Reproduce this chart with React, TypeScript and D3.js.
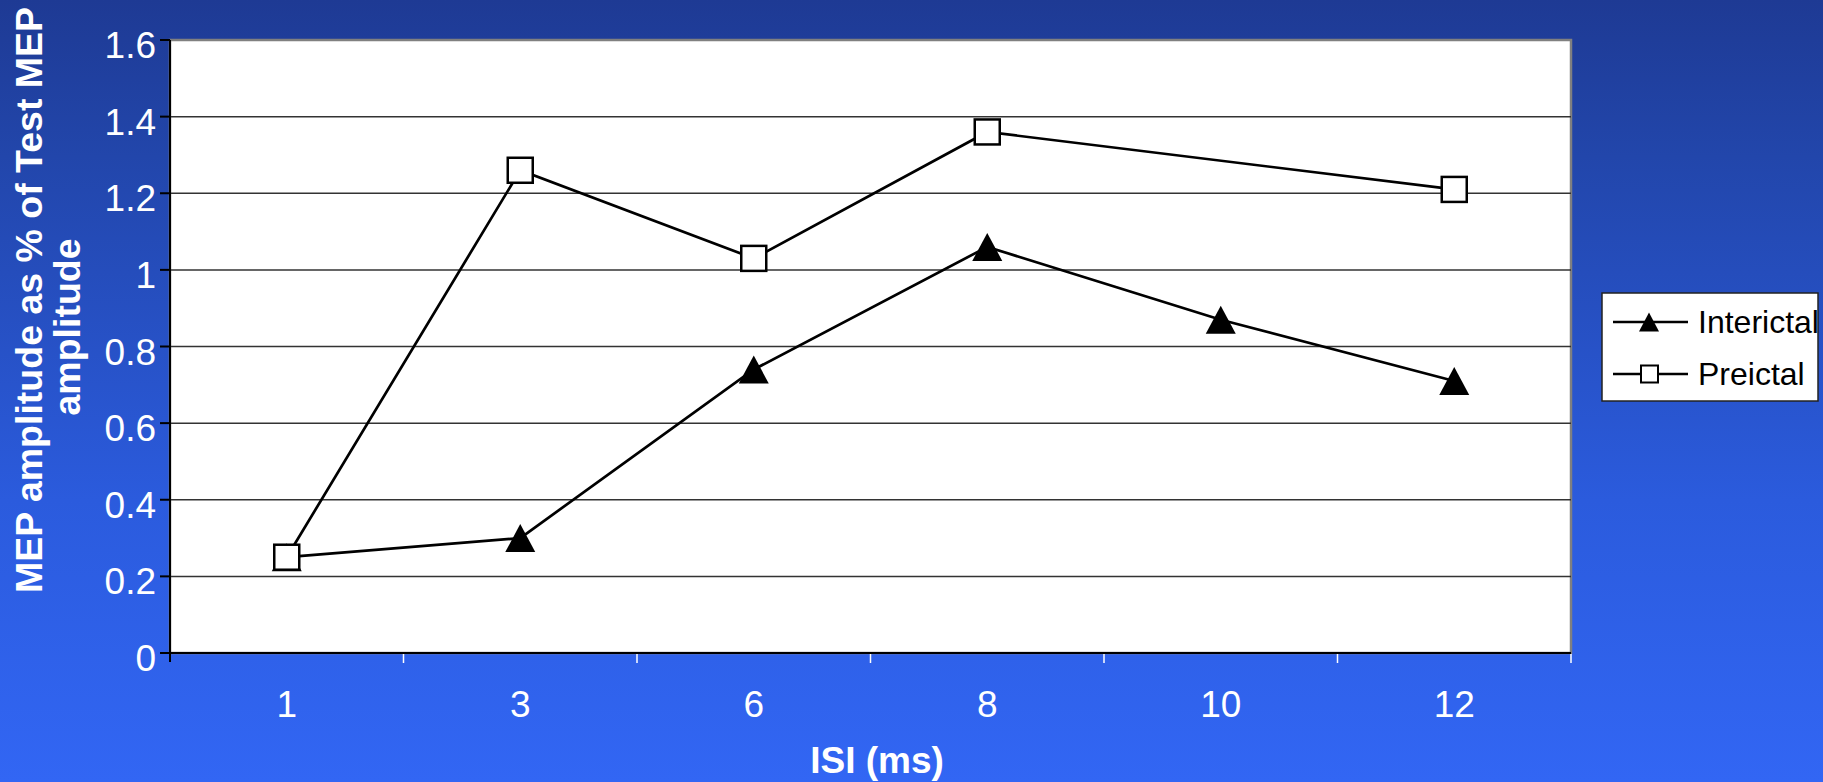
import React, { useRef, useEffect } from 'react';
import { select, scaleBand, scaleLinear, line, range } from 'd3';

const categories = ['1', '3', '6', '8', '10', '12'];
const interictal = [0.25, 0.3, 0.74, 1.06, 0.87, 0.71];
const preictal: Array<number | null> = [0.25, 1.26, 1.03, 1.36, null, 1.21];
const yTicks = [0, 0.2, 0.4, 0.6, 0.8, 1, 1.2, 1.4, 1.6];
const seriesNames = ['Interictal', 'Preictal'];

const W = 1823;
const H = 782;
const plot = { left: 170, right: 1571, top: 40, bottom: 653 };
const font = "'Liberation Sans', Arial, sans-serif";

const triPath = (cx: number, cy: number, w: number, h: number) =>
  `M${cx},${cy - h / 2}L${cx + w / 2},${cy + h / 2}L${cx - w / 2},${cy + h / 2}Z`;

const App: React.FC = () => {
  const svgRef = useRef<SVGSVGElement>(null);

  useEffect(() => {
    document.body.style.margin = '0';
    const svg = select(svgRef.current as any);
    svg.selectAll('*').remove();

    // background gradient
    const grad = svg
      .append('defs')
      .append('linearGradient')
      .attr('id', 'bg')
      .attr('x1', 0)
      .attr('y1', 0)
      .attr('x2', 0)
      .attr('y2', 1);
    [
      [0, '#1e3a94'],
      [0.2, '#2246ab'],
      [0.64, '#2b5bdd'],
      [1, '#3266f4'],
    ].forEach(([o, c]) => grad.append('stop').attr('offset', o).attr('stop-color', c));
    svg.append('rect').attr('width', W).attr('height', H).attr('fill', 'url(#bg)');

    const xScale = scaleBand<string>()
      .domain(categories)
      .range([plot.left, plot.right])
      .padding(0);
    const cx = (c: string) => (xScale(c) as number) + xScale.bandwidth() / 2;
    const yScale = scaleLinear().domain([0, 1.6]).range([plot.bottom, plot.top]);

    // plot area
    svg
      .append('rect')
      .attr('x', plot.left)
      .attr('y', plot.top)
      .attr('width', plot.right - plot.left)
      .attr('height', plot.bottom - plot.top)
      .attr('fill', '#fff')
      .attr('stroke', '#808080')
      .attr('stroke-width', 2.5);

    // gridlines
    svg
      .selectAll('.grid')
      .data(yTicks.filter(t => t > 0 && t < 1.6))
      .join('line')
      .attr('class', 'grid')
      .attr('x1', plot.left)
      .attr('x2', plot.right)
      .attr('y1', d => yScale(d))
      .attr('y2', d => yScale(d))
      .attr('stroke', '#333')
      .attr('stroke-width', 1.5);

    // axes lines
    svg
      .append('line')
      .attr('x1', plot.left)
      .attr('x2', plot.left)
      .attr('y1', plot.top)
      .attr('y2', plot.bottom + 9)
      .attr('stroke', '#000')
      .attr('stroke-width', 2);
    svg
      .append('line')
      .attr('x1', plot.left)
      .attr('x2', plot.right)
      .attr('y1', plot.bottom)
      .attr('y2', plot.bottom)
      .attr('stroke', '#000')
      .attr('stroke-width', 2);

    // y ticks + labels
    svg
      .selectAll('.ytick')
      .data(yTicks)
      .join('line')
      .attr('class', 'ytick')
      .attr('x1', plot.left - 10)
      .attr('x2', plot.left)
      .attr('y1', d => yScale(d))
      .attr('y2', d => yScale(d))
      .attr('stroke', '#000')
      .attr('stroke-width', 2);
    svg
      .selectAll('.ylabel')
      .data(yTicks)
      .join('text')
      .attr('class', 'ylabel')
      .attr('x', 156)
      .attr('y', d => yScale(d) + 18)
      .attr('text-anchor', 'end')
      .attr('fill', '#fff')
      .style('font', `37px ${font}`)
      .text(d => `${d}`);

    // x ticks (white) at category boundaries
    svg
      .selectAll('.xtick')
      .data(range(1, categories.length + 1))
      .join('line')
      .attr('class', 'xtick')
      .attr('x1', i => plot.left + i * xScale.bandwidth())
      .attr('x2', i => plot.left + i * xScale.bandwidth())
      .attr('y1', plot.bottom + 1)
      .attr('y2', plot.bottom + 10)
      .attr('stroke', '#fff')
      .attr('stroke-width', 1.5);
    svg
      .selectAll('.xlabel')
      .data(categories)
      .join('text')
      .attr('class', 'xlabel')
      .attr('x', d => cx(d))
      .attr('y', 717)
      .attr('text-anchor', 'middle')
      .attr('fill', '#fff')
      .style('font', `37px ${font}`)
      .text(d => d);

    // axis titles
    svg
      .append('text')
      .attr('x', 877)
      .attr('y', 773)
      .attr('text-anchor', 'middle')
      .attr('fill', '#fff')
      .style('font', `bold 37px ${font}`)
      .text('ISI (ms)');
    svg
      .append('text')
      .attr('transform', 'translate(42,300) rotate(-90)')
      .attr('text-anchor', 'middle')
      .attr('fill', '#fff')
      .style('font', `bold 37.5px ${font}`)
      .text('MEP amplitude as % of Test MEP');
    svg
      .append('text')
      .attr('transform', 'translate(80,327) rotate(-90)')
      .attr('text-anchor', 'middle')
      .attr('fill', '#fff')
      .style('font', `bold 37.5px ${font}`)
      .text('amplitude');

    // series
    const lineGen = line<[string, number | null]>()
      .defined(d => d[1] !== null)
      .x(d => cx(d[0]))
      .y(d => yScale(d[1] as number));
    const interData = categories.map((c, i) => [c, interictal[i]] as [string, number | null]);
    const preData = categories
      .map((c, i) => [c, preictal[i]] as [string, number | null])
      .filter(d => d[1] !== null);

    svg
      .append('path')
      .attr('d', lineGen(interData) as string)
      .attr('fill', 'none')
      .attr('stroke', '#000')
      .attr('stroke-width', 2.7);
    svg
      .selectAll('.tri')
      .data(interData)
      .join('path')
      .attr('class', 'tri')
      .attr('d', d => triPath(cx(d[0]), yScale(d[1] as number), 30, 28))
      .attr('fill', '#000');

    svg
      .append('path')
      .attr('d', lineGen(preData) as string)
      .attr('fill', 'none')
      .attr('stroke', '#000')
      .attr('stroke-width', 2.7);
    svg
      .selectAll('.sq')
      .data(preData)
      .join('rect')
      .attr('class', 'sq')
      .attr('x', d => cx(d[0]) - 12.5)
      .attr('y', d => yScale(d[1] as number) - 12.5)
      .attr('width', 25)
      .attr('height', 25)
      .attr('fill', '#fff')
      .attr('stroke', '#000')
      .attr('stroke-width', 2.5);

    // legend
    const lg = svg.append('g');
    lg.append('rect')
      .attr('x', 1602)
      .attr('y', 293)
      .attr('width', 216)
      .attr('height', 108)
      .attr('fill', '#fff')
      .attr('stroke', '#222')
      .attr('stroke-width', 1.5);
    seriesNames.forEach((name, i) => {
      const ly = i === 0 ? 322 : 374;
      lg.append('line')
        .attr('x1', 1613)
        .attr('x2', 1688)
        .attr('y1', ly)
        .attr('y2', ly)
        .attr('stroke', '#000')
        .attr('stroke-width', 2.5);
      if (i === 0) {
        lg.append('path').attr('d', triPath(1649, ly, 20, 19)).attr('fill', '#000');
      } else {
        lg.append('rect')
          .attr('x', 1641)
          .attr('y', ly - 8.5)
          .attr('width', 17)
          .attr('height', 17)
          .attr('fill', '#fff')
          .attr('stroke', '#000')
          .attr('stroke-width', 2);
      }
      lg.append('text')
        .attr('x', 1698)
        .attr('y', ly + 11)
        .attr('fill', '#000')
        .style('font', `32px ${font}`)
        .text(name);
    });
  }, []);

  return <svg ref={svgRef} width={W} height={H} style={{ display: 'block' }} role="img"></svg>;
};

export default App;
